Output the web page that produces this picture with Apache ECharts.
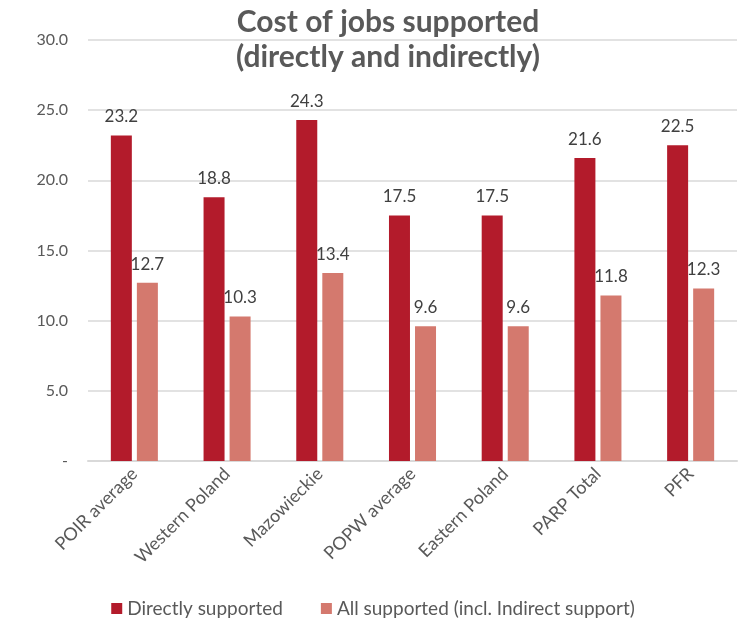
<!DOCTYPE html>
<html><head><meta charset="utf-8">
<script src="https://cdn.jsdelivr.net/npm/echarts@6/dist/echarts.min.js"></script>
<style>html,body{margin:0;padding:0;background:#fff}#c{width:746px;height:625px}</style>
</head><body><div id="c"></div>
<script>
const categories = ["POIR average","Western Poland","Mazowieckie","POPW average","Eastern Poland","PARP Total","PFR"];
const direct = [23.2,18.8,24.3,17.5,17.5,21.6,22.5];
const allSupported = [12.7,10.3,13.4,9.6,9.6,11.8,12.3];
const seriesNames = ["Directly supported","All supported (incl. Indirect support)"];
const titleText = "Cost of jobs supported\n(directly and indirectly)";
const font = "Lato";
const chart = echarts.init(document.getElementById('c'));
chart.setOption({
  animation:false,
  title:{text:titleText,left:383,top:0,textAlign:'center',textStyle:{fontFamily:font,fontSize:30,fontWeight:'bold',color:'#595959',lineHeight:35}},
  grid:{left:88,right:9,top:40,bottom:164},
  legend:{bottom:2,left:'center',itemWidth:11,itemHeight:11,itemGap:38,icon:'rect',textStyle:{fontFamily:font,fontSize:19,color:'#595959'},data:seriesNames},
  xAxis:{type:'category',data:categories,axisTick:{show:false},axisLine:{lineStyle:{color:'#d9d9d9',width:2}},
    axisLabel:{rotate:45,fontFamily:font,fontSize:18,color:'#595959',margin:10,interval:0}},
  yAxis:{type:'value',min:0,max:30,interval:5,axisLine:{show:false},axisTick:{show:false},
    splitLine:{lineStyle:{color:'#d9d9d9',width:1.5}},
    axisLabel:{fontFamily:font,fontSize:16,color:'#595959',margin:20,formatter:v=>v===0?'-':v.toFixed(1)}},
  series:[
    {name:seriesNames[0],type:'bar',data:direct,barWidth:21,barGap:'24%',itemStyle:{color:'#B31B2B'},
     label:{show:true,position:'top',distance:10,fontFamily:font,fontSize:17,color:'#404040',formatter:p=>p.value.toFixed(1)}},
    {name:seriesNames[1],type:'bar',data:allSupported,barWidth:21,itemStyle:{color:'#D4796E'},
     label:{show:true,position:'top',distance:10,fontFamily:font,fontSize:17,color:'#404040',formatter:p=>p.value.toFixed(1)}}
  ]
});
</script></body></html>
